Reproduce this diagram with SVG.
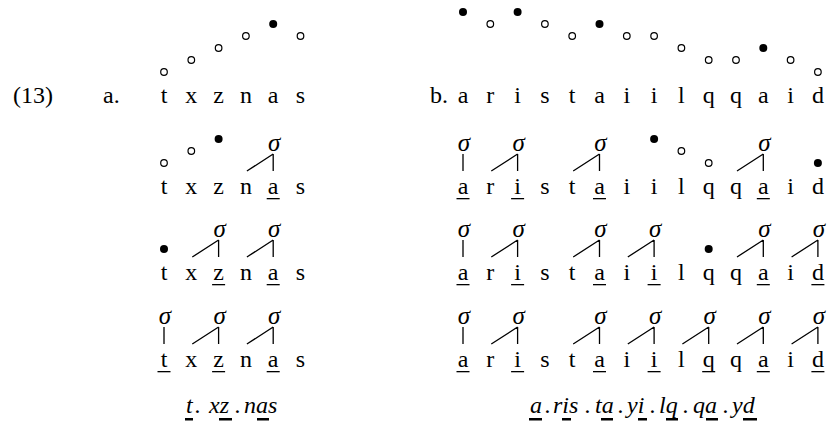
<svg xmlns="http://www.w3.org/2000/svg" width="832" height="425" viewBox="0 0 832 425">
<style>
.t{font-family:'Liberation Serif','DejaVu Serif',serif;font-size:24px;text-anchor:middle;fill:#000}
.l{font-family:'Liberation Serif','DejaVu Serif',serif;font-size:24px;fill:#000}
.s{font-family:'Liberation Serif','DejaVu Serif',serif;font-style:italic;font-size:25px;text-anchor:middle;fill:#000}
.it{font-family:'Liberation Serif','DejaVu Serif',serif;font-style:italic;font-size:24px;fill:#000}
.o{fill:#fff;stroke:#000;stroke-width:1.2}
.f{fill:#000}
.ln{stroke:#000;stroke-width:1.3;fill:none}
.u{fill:#000}
</style>
<rect width="832" height="425" fill="#fff"/>
<g id="labels">
<text class="l" x="13" y="103">(13)</text>
<text class="l" x="103" y="103">a.</text>
<text class="l" x="430" y="103">b.</text>
</g>
<g id="a-row1">
<text class="t" x="164" y="103">t</text><text class="t" x="191.3" y="103">x</text><text class="t" x="218.6" y="103">z</text><text class="t" x="245.9" y="103">n</text><text class="t" x="273.2" y="103">a</text><text class="t" x="300.5" y="103">s</text>
<circle class="o" cx="164" cy="72" r="3.3"/><circle class="o" cx="191.3" cy="60" r="3.3"/><circle class="o" cx="218.6" cy="48" r="3.3"/><circle class="o" cx="245.9" cy="36" r="3.3"/><circle class="f" cx="273.2" cy="24" r="4"/><circle class="o" cx="300.5" cy="36" r="3.3"/>
</g>
<g id="a-row2">
<text class="t" x="164" y="194">t</text><text class="t" x="191.3" y="194">x</text><text class="t" x="218.6" y="194">z</text><text class="t" x="245.9" y="194">n</text><text class="t" x="273.2" y="194">a</text><text class="t" x="300.5" y="194">s</text>
<circle class="o" cx="164" cy="163" r="3.3"/><circle class="o" cx="191.3" cy="151" r="3.3"/><circle class="f" cx="218.6" cy="139" r="4"/>
<text class="s" x="274.2" y="151">σ</text>
<rect class="u" x="266.7" y="198" width="13" height="1.3"/>
</g>
<g id="a-row3">
<text class="t" x="164" y="280">t</text><text class="t" x="191.3" y="280">x</text><text class="t" x="218.6" y="280">z</text><text class="t" x="245.9" y="280">n</text><text class="t" x="273.2" y="280">a</text><text class="t" x="300.5" y="280">s</text>
<circle class="f" cx="164" cy="249" r="4"/>
<text class="s" x="219.6" y="237">σ</text><text class="s" x="274.2" y="237">σ</text>
<rect class="u" x="212.1" y="284" width="13" height="1.3"/><rect class="u" x="266.7" y="284" width="13" height="1.3"/>
</g>
<g id="a-row4">
<text class="t" x="164" y="367">t</text><text class="t" x="191.3" y="367">x</text><text class="t" x="218.6" y="367">z</text><text class="t" x="245.9" y="367">n</text><text class="t" x="273.2" y="367">a</text><text class="t" x="300.5" y="367">s</text>
<text class="s" x="165" y="324">σ</text><text class="s" x="219.6" y="324">σ</text><text class="s" x="274.2" y="324">σ</text>
<rect class="u" x="157.5" y="371" width="13" height="1.3"/><rect class="u" x="212.1" y="371" width="13" height="1.3"/><rect class="u" x="266.7" y="371" width="13" height="1.3"/>
</g>
<g id="a-result">
<text class="it" x="186" y="413">t</text><text class="it" x="195" y="413">.</text><text class="it" x="209" y="413">xz</text><text class="it" x="235" y="413">.</text><text class="it" x="244" y="413">nas</text>
<rect class="u" x="185" y="418" width="8" height="2.5"/><rect class="u" x="219" y="418" width="13" height="2.5"/><rect class="u" x="257" y="418" width="12" height="2.5"/>
</g>
<g id="b-row1">
<text class="t" x="463" y="103">a</text><text class="t" x="490.3" y="103">r</text><text class="t" x="517.6" y="103">i</text><text class="t" x="544.9" y="103">s</text><text class="t" x="572.2" y="103">t</text><text class="t" x="599.5" y="103">a</text><text class="t" x="626.8" y="103">i</text><text class="t" x="654.1" y="103">i</text><text class="t" x="681.4" y="103">l</text><text class="t" x="708.7" y="103">q</text><text class="t" x="736" y="103">q</text><text class="t" x="763.3" y="103">a</text><text class="t" x="790.6" y="103">i</text><text class="t" x="817.9" y="103">d</text>
<circle class="f" cx="463" cy="12" r="4"/><circle class="o" cx="490.3" cy="24" r="3.3"/><circle class="f" cx="517.6" cy="12" r="4"/><circle class="o" cx="544.9" cy="24" r="3.3"/><circle class="o" cx="572.2" cy="36" r="3.3"/><circle class="f" cx="599.5" cy="24" r="4"/><circle class="o" cx="626.8" cy="36" r="3.3"/><circle class="o" cx="654.1" cy="36" r="3.3"/><circle class="o" cx="681.4" cy="48" r="3.3"/><circle class="o" cx="708.7" cy="60" r="3.3"/><circle class="o" cx="736" cy="60" r="3.3"/><circle class="f" cx="763.3" cy="48" r="4"/><circle class="o" cx="790.6" cy="60" r="3.3"/><circle class="o" cx="817.9" cy="72" r="3.3"/>
</g>
<g id="b-row2">
<text class="t" x="463" y="194">a</text><text class="t" x="490.3" y="194">r</text><text class="t" x="517.6" y="194">i</text><text class="t" x="544.9" y="194">s</text><text class="t" x="572.2" y="194">t</text><text class="t" x="599.5" y="194">a</text><text class="t" x="626.8" y="194">i</text><text class="t" x="654.1" y="194">i</text><text class="t" x="681.4" y="194">l</text><text class="t" x="708.7" y="194">q</text><text class="t" x="736" y="194">q</text><text class="t" x="763.3" y="194">a</text><text class="t" x="790.6" y="194">i</text><text class="t" x="817.9" y="194">d</text>
<text class="s" x="464" y="151">σ</text><text class="s" x="518.6" y="151">σ</text><text class="s" x="600.5" y="151">σ</text><text class="s" x="764.3" y="151">σ</text>
<circle class="f" cx="654.1" cy="139" r="4"/><circle class="o" cx="681.4" cy="151" r="3.3"/><circle class="o" cx="708.7" cy="163" r="3.3"/><circle class="f" cx="817.9" cy="163" r="4"/>
<rect class="u" x="456.5" y="198" width="13" height="1.3"/><rect class="u" x="511.1" y="198" width="13" height="1.3"/><rect class="u" x="593" y="198" width="13" height="1.3"/><rect class="u" x="756.8" y="198" width="13" height="1.3"/>
</g>
<g id="b-row3">
<text class="t" x="463" y="280">a</text><text class="t" x="490.3" y="280">r</text><text class="t" x="517.6" y="280">i</text><text class="t" x="544.9" y="280">s</text><text class="t" x="572.2" y="280">t</text><text class="t" x="599.5" y="280">a</text><text class="t" x="626.8" y="280">i</text><text class="t" x="654.1" y="280">i</text><text class="t" x="681.4" y="280">l</text><text class="t" x="708.7" y="280">q</text><text class="t" x="736" y="280">q</text><text class="t" x="763.3" y="280">a</text><text class="t" x="790.6" y="280">i</text><text class="t" x="817.9" y="280">d</text>
<text class="s" x="464" y="237">σ</text><text class="s" x="518.6" y="237">σ</text><text class="s" x="600.5" y="237">σ</text><text class="s" x="655.1" y="237">σ</text><text class="s" x="764.3" y="237">σ</text><text class="s" x="818.9" y="237">σ</text>
<circle class="f" cx="708.7" cy="249" r="4"/>
<rect class="u" x="456.5" y="284" width="13" height="1.3"/><rect class="u" x="511.1" y="284" width="13" height="1.3"/><rect class="u" x="593" y="284" width="13" height="1.3"/><rect class="u" x="647.6" y="284" width="13" height="1.3"/><rect class="u" x="756.8" y="284" width="13" height="1.3"/><rect class="u" x="811.4" y="284" width="13" height="1.3"/>
</g>
<g id="b-row4">
<text class="t" x="463" y="367">a</text><text class="t" x="490.3" y="367">r</text><text class="t" x="517.6" y="367">i</text><text class="t" x="544.9" y="367">s</text><text class="t" x="572.2" y="367">t</text><text class="t" x="599.5" y="367">a</text><text class="t" x="626.8" y="367">i</text><text class="t" x="654.1" y="367">i</text><text class="t" x="681.4" y="367">l</text><text class="t" x="708.7" y="367">q</text><text class="t" x="736" y="367">q</text><text class="t" x="763.3" y="367">a</text><text class="t" x="790.6" y="367">i</text><text class="t" x="817.9" y="367">d</text>
<text class="s" x="464" y="324">σ</text><text class="s" x="518.6" y="324">σ</text><text class="s" x="600.5" y="324">σ</text><text class="s" x="655.1" y="324">σ</text><text class="s" x="709.7" y="324">σ</text><text class="s" x="764.3" y="324">σ</text><text class="s" x="818.9" y="324">σ</text>
<rect class="u" x="456.5" y="371" width="13" height="1.3"/><rect class="u" x="511.1" y="371" width="13" height="1.3"/><rect class="u" x="593" y="371" width="13" height="1.3"/><rect class="u" x="647.6" y="371" width="13" height="1.3"/><rect class="u" x="702.2" y="371" width="13" height="1.3"/><rect class="u" x="756.8" y="371" width="13" height="1.3"/><rect class="u" x="811.4" y="371" width="13" height="1.3"/>
</g>
<g id="b-result">
<text class="it" x="530" y="413">a</text><text class="it" x="545" y="413">.</text><text class="it" x="553" y="413">ris</text><text class="it" x="585" y="413">.</text><text class="it" x="595" y="413">ta</text><text class="it" x="618" y="413">.</text><text class="it" x="627" y="413">yi</text><text class="it" x="650" y="413">.</text><text class="it" x="659" y="413">lq</text><text class="it" x="683" y="413">.</text><text class="it" x="693" y="413">qa</text><text class="it" x="723" y="413">.</text><text class="it" x="732" y="413">yd</text>
<rect class="u" x="529" y="418" width="13" height="2.5"/><rect class="u" x="562" y="418" width="9" height="2.5"/><rect class="u" x="601" y="418" width="12" height="2.5"/><rect class="u" x="638" y="418" width="9" height="2.5"/><rect class="u" x="666" y="418" width="12" height="2.5"/><rect class="u" x="706" y="418" width="12" height="2.5"/><rect class="u" x="743" y="418" width="14" height="2.5"/>
</g>
<g id="connectors" class="ln">
<path d="M273.2 154V171M246.9 171L273.2 154"/>
<path d="M218.6 240V257M192.3 257L218.6 240M273.2 240V257M246.9 257L273.2 240"/>
<path d="M164 327V344M218.6 327V344M192.3 344L218.6 327M273.2 327V344M246.9 344L273.2 327"/>
<path d="M463 154V171M517.6 154V171M491.3 171L517.6 154M599.5 154V171M573.2 171L599.5 154M763.3 154V171M737 171L763.3 154"/>
<path d="M463 240V257M517.6 240V257M491.3 257L517.6 240M599.5 240V257M573.2 257L599.5 240M654.1 240V257M627.8 257L654.1 240M763.3 240V257M737 257L763.3 240M817.9 240V257M791.6 257L817.9 240"/>
<path d="M463 327V344M517.6 327V344M491.3 344L517.6 327M599.5 327V344M573.2 344L599.5 327M654.1 327V344M627.8 344L654.1 327M708.7 327V344M682.4 344L708.7 327M763.3 327V344M737 344L763.3 327M817.9 327V344M791.6 344L817.9 327"/>
</g>
</svg>
